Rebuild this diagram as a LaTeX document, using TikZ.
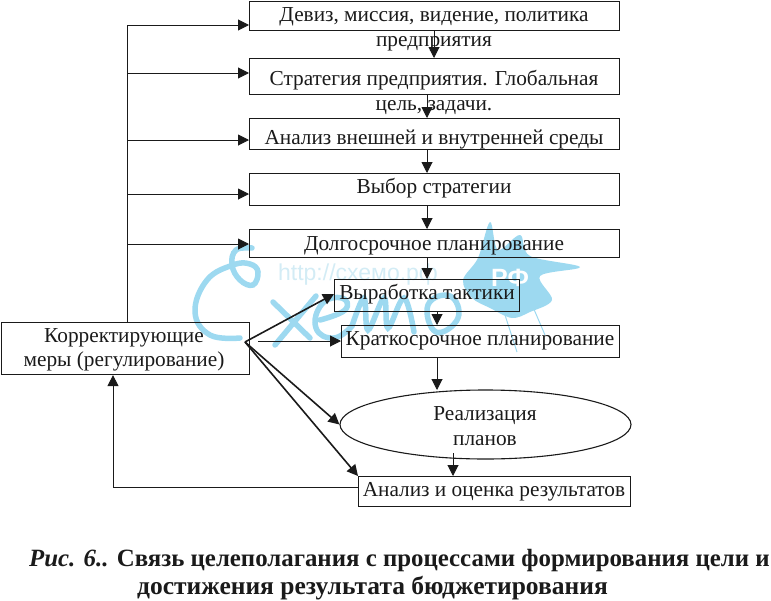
\documentclass[tikz,border=0pt]{standalone}
\usepackage{fontspec}
\setmainfont{Liberation Serif}
\newfontfamily\wmfont{Liberation Sans}
\usetikzlibrary{arrows.meta,shapes.geometric}
\definecolor{wm}{HTML}{9DD9F0}
\definecolor{wmtext}{HTML}{D3ECF5}
\definecolor{ink}{HTML}{1A1A1A}
\tikzset{
  boxshape/.style={draw=ink,line width=1.1pt,fill=none,anchor=north west,inner sep=0pt},
  txt/.style={font=\fontsize{21.3}{24}\selectfont,text=ink,inner sep=0pt,anchor=base},
  conn/.style={draw=ink,line width=1pt,-{Triangle[length=11pt,width=11pt]}},
  connb/.style={conn,line width=1.6pt},
  plain/.style={draw=ink,line width=1pt},
  captxt/.style={font=\fontsize{24.85}{28}\selectfont\bfseries,text=ink,inner sep=0pt,anchor=base west},
  wmline/.style={draw=wm,line width=5.5pt,line cap=round}
}
\newcommand{\bx}[5]{\node[boxshape,minimum width=#4pt,minimum height=#5pt] (#1) at (#2,#3) {};}
\begin{document}
\begin{tikzpicture}[x=1pt,y=-1pt]
\useasboundingbox (0,0) rectangle (771,600);
% watermark
\draw[wmline] plot[smooth,tension=0.7] coordinates {(252,248) (236,250) (232,265) (240,280) (253,285) (258,272) (250,264) (233,265) (207,280) (195,312) (210,335) (240,338)};
\draw[wmline] (273,302) -- (310,338) (316,296) -- (275,345);
\draw[wmline] plot[smooth,tension=0.8] coordinates {(320,320) (345,310) (342,298) (322,304) (316,328) (334,338) (352,326)};
\draw[wmline] plot[smooth,tension=0.6] coordinates {(352,326) (364,298) (368,330) (384,298) (388,328) (404,298) (414,332)};
\draw[wmline] plot[smooth cycle,tension=0.8] coordinates {(428,305) (450,296) (458,318) (436,332)};
\fill[wm] plot[smooth cycle,tension=0.55] coordinates {(463,280) (478,258) (490,222) (498,250) (520,235) (530,256) (580,267) (540,276) (552,300) (530,312) (512,318) (490,308) (472,298)};
\draw[wm,line width=1pt] (505,315) -- (517,352) (530,300) -- (545,335);
\node[font=\wmfont\bfseries\fontsize{25}{27}\selectfont,text=white,inner sep=0pt] (rf) at (510,278) {РФ};
\node[font=\wmfont\fontsize{23}{25}\selectfont,text=wmtext,inner sep=0pt] (url) at (358,275) {http://схемо.рф};
% boxes
\bx{b1}{249}{1}{370}{29}
\bx{b2}{249}{58}{370}{36}
\bx{b3}{249}{118}{370}{31}
\bx{b4}{249}{173}{370}{32}
\bx{b5}{249}{229}{370}{28}
\bx{b6}{334}{279}{185}{32}
\bx{b7}{341}{325}{278}{32}
\bx{b8}{358}{476}{272}{30}
\bx{corr}{1}{322}{248}{52}
\node[draw=ink,line width=1.1pt,ellipse,minimum width=291pt,minimum height=69pt,inner sep=0pt] (ell) at (485.5,424.5) {};
% texts
\node[txt] (t1a) at (434,21) {Девиз, миссия, видение, политика};
\node[txt] (t1b) at (434,46) {предприятия};
\node[txt] (t2a) at (434,85) {Стратегия предприятия. Глобальная};
\node[txt] (t2b) at (434,110) {цель, задачи.};
\node[txt] (t3) at (434,144) {Анализ внешней и внутренней среды};
\node[txt] (t4) at (434,193) {Выбор стратегии};
\node[txt] (t5) at (434,250) {Долгосрочное планирование};
\node[txt] (t6) at (427,299) {Выработка тактики};
\node[txt] (t7) at (480,345) {Краткосрочное планирование};
\node[txt] (t8) at (485,420) {Реализация};
\node[txt] (t9) at (485,445) {планов};
\node[txt] (t10) at (494,496) {Анализ и оценка результатов};
\node[txt] (t11) at (124,342) {Корректирующие};
\node[txt] (t12) at (124,366) {меры (регулирование)};
% vertical connectors
\coordinate (v0) at (434,0);
\draw[conn] (b1.south -| v0) -- (b2.north -| v0);
\coordinate (v) at (427,0);
\draw[conn] (b2.south -| v) -- (b3.north -| v);
\draw[conn] (b3.south -| v) -- (b4.north -| v);
\draw[conn] (b4.south -| v) -- (b5.north -| v);
\draw[conn] (b5.south -| v) -- (b6.north -| v);
\coordinate (v2) at (437,0);
\draw[conn] (b6.south -| v2) -- (b7.north -| v2);
\coordinate (ellin) at (437,390);
\draw[conn] (b7.south -| v2) -- (ellin);
\coordinate (ellout) at (453,453);
\draw[conn] (ellout) -- (ellout |- b8.north);
% feedback rail
\coordinate (railtop) at (127,25);
\draw[plain] (corr.north -| railtop) -- (railtop);
\coordinate (r1) at (127,25);
\coordinate (r2) at (127,73);
\coordinate (r3) at (127,140);
\coordinate (r4) at (127,194);
\coordinate (r5) at (127,244);
\draw[conn] (r1) -- (r1 -| b1.west);
\draw[conn] (r2) -- (r2 -| b2.west);
\draw[conn] (r3) -- (r3 -| b3.west);
\draw[conn] (r4) -- (r4 -| b4.west);
\draw[conn] (r5) -- (r5 -| b5.west);
% return line
\coordinate (ret) at (113,487);
\draw[conn] (ret -| b8.west) -- (ret) -- (ret |- corr.south);
% fan
\coordinate (fan) at (245,342);
\coordinate (fanb) at (258,341);
\coordinate (fanc) at (334,294);
\draw[connb] (fan) -- (fanc);
\draw[conn] (fanb) -- (fanb -| b7.west);
\draw[connb] (fan) -- (ell.west);
\draw[connb] (fan) -- (b8.north west);
% caption
\node[captxt] (c1) at (29,566) {\textit{Рис. 6..} Связь целеполагания с процессами формирования цели и};
\node[captxt,font=\fontsize{25.5}{28}\selectfont\bfseries] (c2) at (137,594) {достижения результата бюджетирования};
\end{tikzpicture}
\end{document}
